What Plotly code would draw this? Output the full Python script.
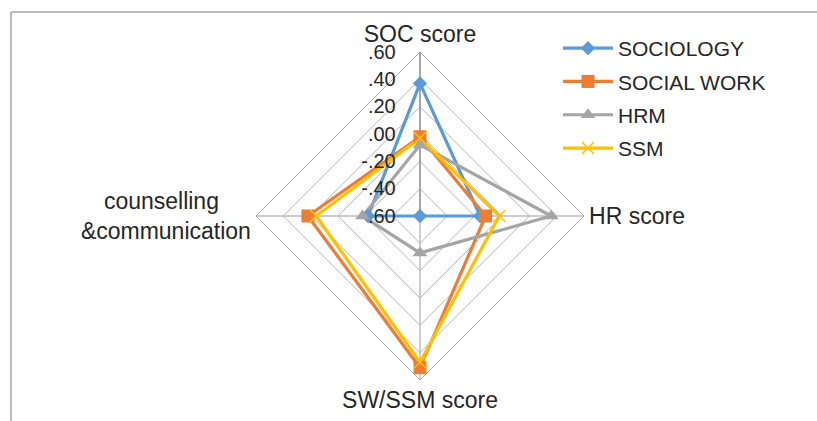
import plotly.graph_objects as go

categories = ["SOC score", "HR score", "SW/SSM score",
              "counselling\u00a0\u00a0\u00a0\u00a0\u00a0<br>&communication"]
sociology = [0.37, -0.16, -0.60, -0.22]
social_work = [-0.02, -0.12, 0.51, 0.22]
hrm = [-0.08, 0.36, -0.33, -0.18]
ssm = [-0.03, -0.02, 0.47, 0.16]
tick_vals = [-0.6, -0.4, -0.2, 0.0, 0.2, 0.4, 0.6]
tick_text = ["-.60", "-.40", "-.20", ".00", ".20", ".40", ".60"]

series = [
    ("SOCIOLOGY", sociology, "#5B9BD5", dict(symbol="diamond", size=11)),
    ("SOCIAL WORK", social_work, "#ED7D31", dict(symbol="square", size=13)),
    ("HRM", hrm, "#A5A5A5", dict(symbol="triangle-up", size=13)),
    ("SSM", ssm, "#FFC000", dict(symbol="x-thin", size=12)),
]

PAD = "\u00a0\u00a0\u00a0"

fig = go.Figure()
for name, vals, color, mk in series:
    m = dict(color=color, **mk)
    if mk["symbol"] == "x-thin":
        m["line"] = dict(color=color, width=1.5)
    # lines on the polygon-grid subplot (also gives the legend entry)
    fig.add_trace(go.Scatterpolar(
        r=vals + vals[:1],
        theta=categories + categories[:1],
        mode="lines+markers",
        name=name,
        legendgroup=name,
        line=dict(color=color, width=3.2),
        marker=m,
        subplot="polar",
    ))
for name, vals, color, mk in series:
    m = dict(color=color, **mk)
    if mk["symbol"] == "x-thin":
        m["line"] = dict(color=color, width=1.5)
    # markers on an overlaid subplot with the same scale
    fig.add_trace(go.Scatterpolar(
        r=vals,
        theta=categories,
        mode="markers",
        name=name,
        legendgroup=name,
        showlegend=False,
        marker=m,
        subplot="polar2",
        cliponaxis=False,
    ))

domain = dict(x=[256/817, 584/817], y=[1-380/421, 1-52/421])

fig.update_layout(
    width=817, height=421,
    margin=dict(l=0, r=0, t=0, b=0),
    paper_bgcolor="white",
    plot_bgcolor="white",
    font=dict(family="Liberation Sans, Arial, sans-serif", color="#262626"),
    polar=dict(
        domain=domain,
        bgcolor="white",
        gridshape="linear",
        angularaxis=dict(
            rotation=90, direction="clockwise",
            tickfont=dict(size=23, color="#262626"),
            showline=True, linecolor="#ADADAD", linewidth=1,
            gridcolor="#9A9A9A", gridwidth=1,
            ticks="",
        ),
        radialaxis=dict(
            range=[-0.6, 0.6], angle=90, side="counterclockwise",
            tickvals=tick_vals, ticktext=[t + PAD for t in tick_text],
            tickfont=dict(size=20, color="#262626"),
            tickangle=90,
            showline=True, linecolor="#8C8C8C", linewidth=1.2,
            gridcolor="#B4B4B4", gridwidth=1,
            ticks="",
        ),
    ),
    polar2=dict(
        domain=domain,
        bgcolor="rgba(0,0,0,0)",
        angularaxis=dict(
            rotation=90, direction="clockwise",
            categoryorder="array", categoryarray=categories,
            visible=False,
        ),
        radialaxis=dict(range=[-0.6, 0.6], visible=False),
    ),
    legend=dict(
        x=558/817, y=1-28/421, xanchor="left", yanchor="top",
        font=dict(size=21, color="#262626"),
        bgcolor="rgba(0,0,0,0)",
        itemwidth=50,
        tracegroupgap=3,
    ),
    shapes=[
        dict(type="line", xref="paper", yref="paper", x0=11/817, x1=1, y0=1-12/421, y1=1-12/421,
             line=dict(color="#A6A6A6", width=1.5)),
        dict(type="line", xref="paper", yref="paper", x0=11/817, x1=11/817, y0=0, y1=1-12/421,
             line=dict(color="#A6A6A6", width=1.5)),
    ],
)

fig.write_html("out.html", config={"displayModeBar": False},
               post_script="document.body.style.margin='0';document.body.style.overflow='hidden';")
